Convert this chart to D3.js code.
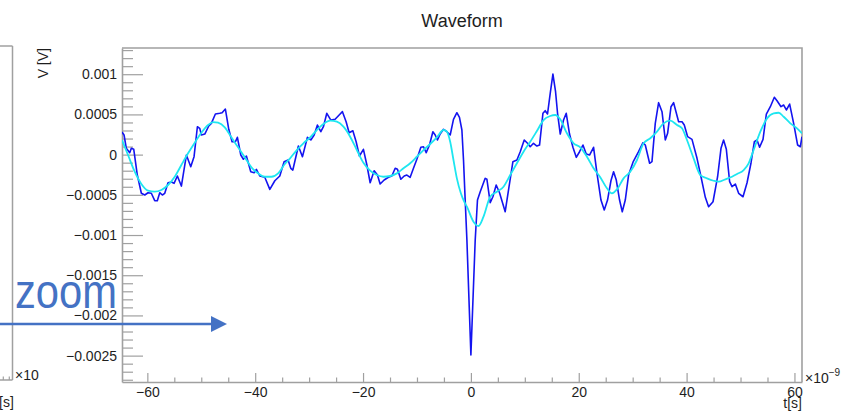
<!DOCTYPE html>
<html>
<head>
<meta charset="utf-8">
<script src="https://cdn.jsdelivr.net/npm/d3@7"></script>
<style>
  html, body { margin: 0; padding: 0; background: #fff; }
  svg { display: block; font-family: "Liberation Sans", Arial, Helvetica, sans-serif; }
</style>
</head>
<body>
<svg id="chart" width="843" height="411"></svg>
<script>
// Sampled waveform: time in ns, voltage in V
const tRaw = [
  -64.7,-64.32,-63.9,-63.27,-62.97,-62.52,-61.86,-61.11,-60.48,-59.87,
  -59.26,-58.63,-58.15,-57.7,-57.22,-56.77,-56.16,-55.55,-55.05,-54.43,
  -53.69,-52.76,-51.95,-51.34,-50.72,-50.28,-49.98,-49.35,-48.61,-48.13,
  -47.38,-46.57,-46.14,-45.53,-44.9,-44.29,-43.67,-43.3,-42.67,-42.19,
  -41.63,-40.82,-40.2,-39.78,-39.15,-38.22,-37.29,-36.36,-35.44,-34.64,
  -33.9,-33.4,-33.02,-31.99,-31.24,-30.32,-29.68,-29.07,-28.46,-27.83,
  -27.35,-26.72,-25.97,-25.18,-24.43,-23.82,-23.14,-22.58,-21.89,-21.28,
  -20.67,-19.93,-19.29,-18.68,-17.94,-17.33,-16.83,-16.09,-15.29,-14.66,
  -14.04,-13.62,-12.99,-12.37,-11.87,-11.26,-10.65,-10.02,-9.28,-8.79,
  -8.29,-7.68,-7.05,-6.62,-6.2,-5.7,-5.08,-4.45,-3.84,-3.23,
  -2.6,-2.12,-1.67,-1.37,-1.06,-0.74,0,0.8,1.22,1.73,
  2.65,2.97,3.58,4.08,4.69,5.31,6.36,6.98,7.79,8.53,
  9.15,9.89,10.5,11,11.61,12.24,12.73,13.36,13.78,14.21,
  14.71,15.21,15.7,16.07,16.57,17.18,17.68,18.29,18.92,19.54,
  20.15,20.78,21.39,22,22.75,23.38,24.12,24.73,25.34,25.97,
  26.46,26.96,27.57,28.07,28.63,29.24,30.11,31.09,31.91,32.34,
  33.14,33.58,34.19,34.81,35.44,36.05,36.48,37.11,37.59,38.52,
  39.15,39.57,40.19,41,41.93,42.67,43.47,44.08,44.9,45.75,
  46.38,46.86,47.37,47.98,48.42,49.04,49.65,50.46,51.21,51.95,
  52.56,53.06,53.54,54.17,54.79,55.53,56.27,56.77,57.51,58,
  58.5,59.11,59.85,60.59,61.09,61.4
];
const vRaw = [
  0.000281,0.000244,0.000078,0.000024,0.000078,0.000066,-0.000254,-0.000481,-0.000502,-0.000474,
  -0.000481,-0.000573,-0.000573,-0.000474,-0.000502,-0.000481,-0.00035,-0.000341,-0.000357,-0.000266,
  -0.000391,-0.000005,-0.00015,-0.000026,0.000347,0.000327,0.000244,0.000256,0.000356,0.000389,
  0.000505,0.000514,0.000521,0.000567,0.000315,0.00016,0.00016,0.000215,-0.000005,-0.000058,
  -0.000017,-0.000213,-0.000225,-0.000183,-0.000266,-0.000282,-0.000432,-0.000325,-0.000266,-0.000088,
  -0.000067,-0.00017,-0.000192,0.000107,-0.000026,0.000215,0.000182,0.000244,0.000368,0.000285,
  0.000347,0.000514,0.00043,0.000439,0.000493,0.000534,0.000409,0.000272,0.000297,0.00016,
  -0.000017,0.000066,-0.000129,-0.00035,-0.0002,-0.000254,-0.000366,-0.000316,-0.000282,-0.000266,
  -0.00017,-0.000183,-0.000307,-0.000266,-0.000254,-0.000282,-0.00017,-0.000058,0.000091,0.000098,
  0.000024,0.000119,0.000285,0.000244,0.000182,0.000256,0.000315,0.000285,0.000244,0.000439,
  0.000521,0.000464,0.000306,-0.000067,-0.000565,-0.001062,-0.002493,-0.001062,-0.000565,-0.000461,
  -0.000295,-0.000307,-0.000598,-0.000524,-0.000378,-0.000474,-0.00071,-0.00044,-0.000088,-0.000067,
  0.000036,0.000182,0.000141,0.000098,0.000141,0.000107,0.000119,0.000514,0.000546,0.000505,
  0.000762,0.001002,0.000782,0.000514,0.000256,0.00043,0.000514,0.000256,0.000091,-0.000034,
  0.000036,0.000119,0.000007,-0.000005,0.000091,-0.000233,-0.000565,-0.000689,-0.000565,-0.000325,
  -0.000213,-0.000316,-0.000565,-0.00071,-0.000565,-0.000254,-0.000086,0.000036,0.000148,0.000119,
  -0.000108,-0.000088,0.000389,0.000646,0.000534,0.000182,0.000265,0.000596,0.000646,0.000409,
  0.000409,0.000368,0.000223,0.00019,-0.000046,-0.000275,-0.000531,-0.000648,-0.000586,-0.000275,
  0.000078,0.000182,0.000066,-0.000337,-0.000399,-0.000366,-0.000481,-0.000524,-0.00035,-0.000101,
  0.00016,0.000182,0.000091,0.00019,0.000505,0.000596,0.000713,0.00067,0.000596,0.000617,
  0.000555,0.000629,0.000389,0.000119,0.000098,0.000223
];

// Smoothed (filtered) waveform
const tFit = [
  -64.7,-63.58,-62.34,-61.11,-59.87,-58.63,-57.4,-56.16,-54.92,-53.69,
  -52.45,-51.21,-49.98,-48.74,-47.81,-46.88,-45.64,-44.42,-43.17,-41.93,
  -40.7,-39.46,-38.22,-36.99,-35.75,-34.51,-33.53,-32.28,-31.06,-29.81,
  -28.57,-27.35,-26.1,-24.86,-23.64,-22.39,-21.15,-19.93,-18.68,-17.44,
  -16.22,-14.97,-13.73,-12.5,-11.26,-10.02,-8.79,-7.55,-6.31,-5.08,
  -4.45,-3.84,-3.23,-2.6,-1.86,-1.24,-0.74,0.48,1.41,2.34,
  3.58,4.82,6.05,7.29,8.53,9.76,11,12.24,13.47,14.71,
  15.64,16.57,17.81,19.04,20.28,21.52,22.75,23.99,25.23,26.16,
  27.09,28.31,29.55,30.8,32.02,33.27,34.51,35.73,36.98,38.22,
  39.15,40.07,41.3,42.54,43.78,45.01,45.94,47.18,48.42,49.35,
  50.58,51.5,52.43,53.67,54.92,56.14,57.07,58,59.24,60.48,
  61.4
];
const vFit = [
  0.000182,-0.000005,-0.000213,-0.000366,-0.000449,-0.000461,-0.00044,-0.000378,-0.000275,-0.000129,
  0.000016,0.000148,0.000272,0.000368,0.000405,0.000397,0.00034,0.000215,0.000091,-0.000034,
  -0.000158,-0.000233,-0.000275,-0.000275,-0.000233,-0.000117,-0.000046,0.000057,0.000141,0.000215,
  0.000306,0.000381,0.000422,0.000409,0.000347,0.000223,0.000057,-0.000101,-0.0002,-0.000254,
  -0.000275,-0.000266,-0.000233,-0.00017,-0.000108,-0.000026,0.000057,0.000132,0.000215,0.000306,
  0.000285,0.00016,-0.000067,-0.000295,-0.000481,-0.000586,-0.000648,-0.000835,-0.000888,-0.000772,
  -0.000524,-0.000461,-0.000399,-0.000254,-0.000108,0.000036,0.00016,0.000294,0.00043,0.00048,
  0.000493,0.000439,0.000265,0.000141,0.000091,-0.000026,-0.00017,-0.000282,-0.000419,-0.000481,
  -0.000432,-0.000295,-0.000213,-0.000067,0.000141,0.000203,0.000285,0.000389,0.000422,0.000368,
  0.000327,0.000182,-0.000046,-0.000254,-0.000295,-0.000325,-0.000337,-0.000307,-0.000275,-0.000241,
  -0.000192,-0.000108,0.000057,0.000285,0.000451,0.000514,0.000521,0.000471,0.000389,0.000327,
  0.000265
];

// Axis ticks and labels
const xTicks = [-60, -40, -20, 0, 20, 40, 60];
const xTickLabels = ["\u221260", "\u221240", "\u221220", "0", "20", "40", "60"];
const yTicks = [0.001, 0.0005, 0, -0.0005, -0.001, -0.0015, -0.002, -0.0025];
const yTickLabels = ["0.001", "0.0005", "0", "\u22120.0005", "\u22120.001", "\u22120.0015", "\u22120.002", "\u22120.0025"];
const tDomain = [-64.7, 61.4];
const vDomain = [-0.002828, 0.001326];

const svg = d3.select("#chart");
const L = 122, R = 802, T = 48, B = 382;
const frameCol = "#a0a0a0";
const textCol = "#1e1e1e";

const x = d3.scaleLinear().domain(tDomain).range([L, R]);
const y = d3.scaleLinear().domain(vDomain).range([B, T]);

svg.append("rect").attr("width", 843).attr("height", 411).attr("fill", "#fff");

// Neighbouring panel edge on the far left
const side = svg.append("g").attr("stroke", frameCol).attr("stroke-width", 1.5).attr("fill", "none");
side.append("line").attr("x1", 0).attr("x2", 12.5).attr("y1", 46).attr("y2", 46);
side.append("line").attr("x1", 12.5).attr("x2", 12.5).attr("y1", 46).attr("y2", 380);
side.append("line").attr("x1", 0).attr("x2", 12.5).attr("y1", 380).attr("y2", 380);
[3.3, 9.3].forEach(px => side.append("line").attr("x1", px).attr("x2", px).attr("y1", 380).attr("y2", 376.5).attr("stroke-width", 1.2));
svg.append("text").attr("x", 15).attr("y", 380).attr("font-size", 14).attr("fill", textCol).text("\u00d710");
svg.append("text").attr("x", -1).attr("y", 407).attr("font-size", 14).attr("fill", textCol).text("[s]");

// Frame (top and right)
svg.append("path")
  .attr("d", `M${L},${T}H${R}V${B}`)
  .attr("fill", "none").attr("stroke", frameCol).attr("stroke-width", 1.6);

// Minor ticks
const xMinor = d3.range(-60, 61, 5).filter(d => !xTicks.includes(d));
const yMinor = d3.range(-28, 14).map(i => +(i * 1e-4).toFixed(4)).filter(d => !yTicks.some(t => Math.abs(t - d) < 1e-9));

function styleAxis(g) {
  g.selectAll(".domain").attr("stroke", frameCol).attr("stroke-width", 1.6);
  g.selectAll(".tick line").attr("stroke", frameCol).attr("stroke-width", 1.2);
  g.selectAll(".tick text").attr("fill", textCol).attr("font-size", 14)
    .attr("font-family", "\"Liberation Sans\", Arial, Helvetica, sans-serif");
}

svg.append("g").attr("transform", `translate(0,${B})`)
  .call(d3.axisBottom(x).tickValues(xMinor).tickFormat("").tickSizeInner(-4.5).tickSizeOuter(0))
  .call(g => g.select(".domain").remove())
  .call(styleAxis);
svg.append("g").attr("transform", `translate(${L},0)`)
  .call(d3.axisLeft(y).tickValues(yMinor).tickFormat("").tickSizeInner(-11).tickSizeOuter(0))
  .call(g => g.select(".domain").remove())
  .call(styleAxis);

// Major axes
svg.append("g").attr("transform", `translate(0,${B})`)
  .call(d3.axisBottom(x).tickValues(xTicks).tickFormat((d, i) => xTickLabels[i])
    .tickSizeInner(-9).tickSizeOuter(0).tickPadding(5))
  .call(styleAxis);
svg.append("g").attr("transform", `translate(${L},0)`)
  .call(d3.axisLeft(y).tickValues(yTicks).tickFormat((d, i) => yTickLabels[i])
    .tickSizeInner(-21).tickSizeOuter(0).tickPadding(5))
  .call(styleAxis);

// Waveform curves
svg.append("clipPath").attr("id", "plotClip")
  .append("rect").attr("x", L).attr("y", T).attr("width", R - L).attr("height", B - T);

const raw = d3.zip(tRaw, vRaw);
const fit = d3.zip(tFit, vFit);

const plot = svg.append("g").attr("clip-path", "url(#plotClip)");
plot.append("path").datum(raw)
  .attr("d", d3.line().x(d => x(d[0])).y(d => y(d[1])))
  .attr("fill", "none").attr("stroke", "#1414f0").attr("stroke-width", 1.6)
  .attr("stroke-linejoin", "round");
plot.append("path").datum(fit)
  .attr("d", d3.line().curve(d3.curveMonotoneX).x(d => x(d[0])).y(d => y(d[1])))
  .attr("fill", "none").attr("stroke", "#1ee6f0").attr("stroke-width", 1.8)
  .attr("stroke-linejoin", "round");

// Titles
svg.append("text").attr("x", 462).attr("y", 26.5).attr("text-anchor", "middle")
  .attr("font-size", 18).attr("fill", textCol).text("Waveform");
svg.append("text").attr("transform", `translate(48,${T}) rotate(-90)`).attr("text-anchor", "end")
  .attr("font-size", 14).attr("fill", textCol).text("V [V]");
svg.append("text").attr("x", R).attr("y", 408).attr("text-anchor", "end")
  .attr("font-size", 14).attr("fill", textCol).text("t[s]");
const expo = svg.append("text").attr("x", 805).attr("y", 383).attr("font-size", 14).attr("fill", textCol);
expo.append("tspan").text("\u00d710");
expo.append("tspan").attr("dy", -7).attr("font-size", 10).text("\u22129");

// Annotation
const annCol = "#4472c4";
svg.append("text").attr("x", 15).attr("y", 307.5).attr("font-size", 48)
  .attr("textLength", 102).attr("lengthAdjust", "spacingAndGlyphs")
  .attr("fill", annCol).text("zoom");
svg.append("line").attr("x1", 0).attr("x2", 213).attr("y1", 324).attr("y2", 324)
  .attr("stroke", annCol).attr("stroke-width", 2.5);
svg.append("path").attr("d", "M211,316L227,324L211,332Z").attr("fill", annCol);
</script>
</body>
</html>
